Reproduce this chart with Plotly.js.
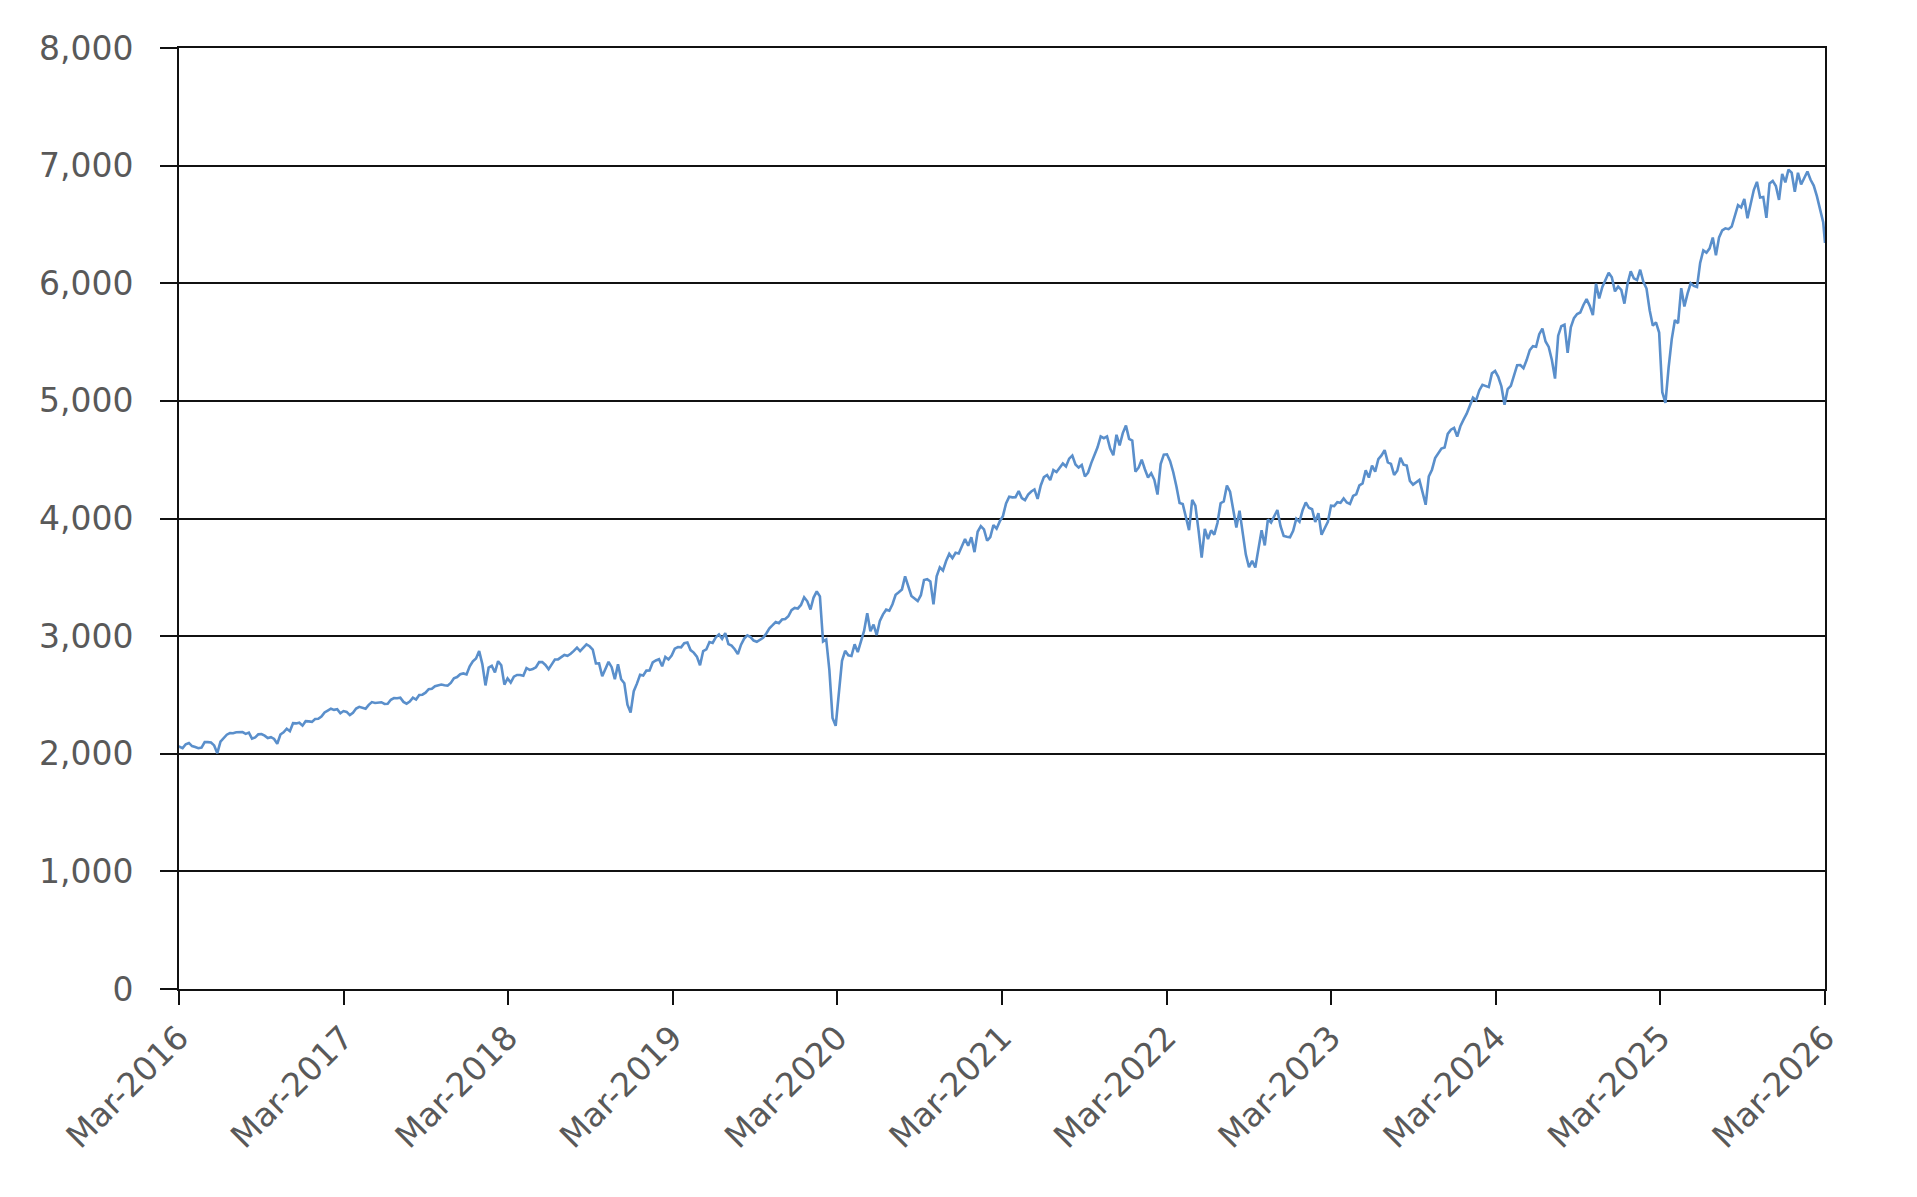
<!DOCTYPE html>
<html>
<head>
<meta charset="utf-8">
<script src="https://cdn.plot.ly/plotly-3.0.1.min.js"></script>
<style>
  html, body { margin: 0; padding: 0; background: #fff; }
  #chart { width: 1917px; height: 1197px; }
</style>
</head>
<body>
<div id="chart"></div>
<script>
// Weekly closes, one array per calendar year.
// Each array starts on the first Friday given in weekStarts.
const weekStarts = {
  2016: '2016-04-01', 2017: '2017-01-06', 2018: '2018-01-05', 2019: '2019-01-04',
  2020: '2020-01-03', 2021: '2021-01-08', 2022: '2022-01-07', 2023: '2023-01-06',
  2024: '2024-01-05', 2025: '2025-01-03', 2026: '2026-01-02'
};

const close2016 = [2060, 2048, 2081, 2092, 2065, 2057, 2047, 2052, 2099, 2099, 2096, 2071, 2005,
  2103, 2130, 2162, 2175, 2174, 2183, 2184, 2184, 2169, 2180, 2128, 2139, 2165, 2168,
  2154, 2133, 2141, 2126, 2085, 2164, 2182, 2213, 2192, 2260, 2258, 2264, 2239];
const close2017 = [2277, 2275, 2271, 2295, 2297, 2316, 2351, 2367, 2383, 2373, 2378, 2344, 2363,
  2356, 2329, 2349, 2384, 2399, 2391, 2382, 2416, 2439, 2432, 2433, 2438, 2423,
  2425, 2459, 2473, 2472, 2477, 2441, 2426, 2443, 2477, 2461, 2500, 2502, 2519,
  2549, 2553, 2575, 2581, 2588, 2582, 2579, 2602, 2642, 2652, 2676, 2683, 2674];
const close2018 = [2743, 2786, 2810, 2873, 2762, 2581, 2732, 2747, 2691, 2787, 2752, 2588, 2641,
  2605, 2656, 2670, 2670, 2663, 2728, 2713, 2721, 2735, 2779, 2779, 2755, 2718,
  2760, 2801, 2802, 2819, 2840, 2833, 2850, 2875, 2902, 2872, 2905, 2930, 2914,
  2886, 2767, 2768, 2659, 2723, 2781, 2736, 2633, 2760, 2633, 2600, 2417, 2351];
const close2019 = [2532, 2596, 2671, 2665, 2707, 2708, 2776, 2793, 2804, 2743, 2823, 2801, 2834,
  2893, 2907, 2905, 2940, 2946, 2881, 2860, 2826, 2752, 2873, 2887, 2950, 2942,
  2990, 3014, 2977, 3026, 2932, 2919, 2889, 2847, 2927, 2979, 3007, 2992, 2962,
  2952, 2970, 2986, 3023, 3067, 3093, 3120, 3110, 3141, 3146, 3169, 3221, 3240];
const close2020 = [3235, 3265, 3330, 3296, 3226, 3328, 3380, 3338, 2954, 2972, 2711, 2305, 2237,
  2489, 2790, 2875, 2837, 2831, 2930, 2864, 2956, 3044, 3194, 3041, 3098, 3009,
  3130, 3185, 3225, 3216, 3271, 3351, 3373, 3397, 3508, 3427, 3341, 3320, 3298,
  3348, 3477, 3484, 3465, 3270, 3509, 3585, 3558, 3638, 3699, 3663, 3709, 3703];
const close2021 = [3825, 3768, 3841, 3714, 3887, 3935, 3907, 3811, 3842, 3943, 3913, 3975,
  4020, 4129, 4185, 4180, 4181, 4233, 4174, 4156, 4204, 4230, 4247, 4167, 4281,
  4352, 4370, 4327, 4412, 4395, 4437, 4468, 4442, 4509, 4535, 4459, 4433, 4455,
  4357, 4391, 4471, 4545, 4605, 4698, 4683, 4698, 4595, 4538, 4712, 4621, 4726, 4790];
const close2022 = [4677, 4663, 4398, 4432, 4500, 4419, 4349, 4385, 4329, 4204, 4463, 4543,
  4546, 4488, 4393, 4272, 4132, 4123, 4024, 3901, 4158, 4109, 3901, 3667, 3912,
  3825, 3899, 3863, 3962, 4130, 4145, 4280, 4228, 4058, 3924, 4067, 3873, 3693, 3586,
  3640, 3583, 3753, 3901, 3771, 3993, 3965, 4026, 4072, 3934, 3852, 3845, 3840];
const close2023 = [3895, 3999, 3973, 4071, 4137, 4091, 4079, 3970, 4046, 3862, 3917, 3971, 4109,
  4105, 4138, 4134, 4170, 4136, 4124, 4192, 4206, 4282, 4299, 4410, 4348, 4450,
  4399, 4505, 4536, 4582, 4478, 4464, 4370, 4406, 4516, 4458, 4450, 4320, 4288,
  4309, 4328, 4224, 4117, 4358, 4415, 4514, 4559, 4595, 4604, 4719, 4755, 4770];
const close2024 = [4697, 4784, 4840, 4891, 4959, 5027, 5006, 5089, 5137, 5124, 5117, 5234, 5254,
  5204, 5123, 4967, 5100, 5128, 5223, 5303, 5305, 5278, 5347, 5432, 5465, 5460,
  5567, 5615, 5505, 5459, 5347, 5190, 5554, 5635, 5648, 5408, 5626, 5703, 5738,
  5751, 5815, 5865, 5808, 5729, 5996, 5871, 5969, 6032, 6090, 6051, 5931, 5971];
const close2025 = [5943, 5827, 5997, 6101, 6041, 6026, 6115, 6013, 5955, 5770, 5639, 5668, 5581,
  5074, 4983, 5283, 5525, 5687, 5660, 5958, 5803, 5912, 6000, 5977, 5968, 6173,
  6279, 6260, 6297, 6389, 6238, 6390, 6450, 6467, 6460, 6482, 6584, 6664, 6644,
  6716, 6553, 6664, 6792, 6862, 6729, 6734, 6556, 6849, 6870, 6827, 6709, 6930];
const close2026 = [6858, 6966, 6940, 6777, 6939, 6840, 6900, 6950, 6880, 6830, 6740, 6640, 6520];
const finalDate = '2026-03-31';
const finalClose = 6343;

const tickYears = [2016, 2017, 2018, 2019, 2020, 2021, 2022, 2023, 2024, 2025, 2026];
const yTicks = [0, 1000, 2000, 3000, 4000, 5000, 6000, 7000, 8000];

// Turn a yearly array into weekly dates from its first Friday.
const weekly = (start, values) => {
  const t0 = Date.parse(start + 'T00:00:00Z');
  return values.map((v, i) => new Date(t0 + i * 7 * 864e5).toISOString().slice(0, 10));
};

const years = [
  [2016, close2016], [2017, close2017], [2018, close2018], [2019, close2019],
  [2020, close2020], [2021, close2021], [2022, close2022], [2023, close2023],
  [2024, close2024], [2025, close2025], [2026, close2026]
];

let dates = ['2016-03-31'];
let closes = [2058];
years.forEach(([yr, vals]) => {
  dates = dates.concat(weekly(weekStarts[yr], vals));
  closes = closes.concat(vals);
});
dates.push(finalDate);
closes.push(finalClose);

const labelFont = { family: 'DejaVu Sans, Verdana, sans-serif', size: 33, color: '#595959' };

const trace = {
  x: dates, y: closes, type: 'scatter', mode: 'lines',
  line: { color: '#5a8fcb', width: 2.6 }, hoverinfo: 'x+y'
};

const layout = {
  width: 1917, height: 1197,
  margin: { l: 179, r: 92, t: 48, b: 208 },
  paper_bgcolor: '#ffffff', plot_bgcolor: '#ffffff',
  showlegend: false,
  xaxis: {
    type: 'date',
    range: ['2016-03-31', '2026-03-31'],
    tickvals: tickYears.map(y => y + '-03-31'),
    ticktext: tickYears.map(y => 'Mar-' + y),
    tickangle: -45,
    ticks: 'outside', ticklen: 14, tickwidth: 2, tickcolor: '#111',
    showline: true, linecolor: '#111', linewidth: 2, mirror: true,
    showgrid: false, zeroline: false,
    tickfont: labelFont
  },
  yaxis: {
    range: [0, 8000],
    tickvals: yTicks,
    tickformat: ',d',
    ticks: 'outside', ticklen: 17, tickwidth: 2, tickcolor: '#111',
    ticklabelstandoff: 20,
    showline: true, linecolor: '#111', linewidth: 2, mirror: true,
    showgrid: true, gridcolor: '#111', gridwidth: 2,
    zeroline: false,
    tickfont: labelFont
  }
};

Plotly.newPlot('chart', [trace], layout, { displayModeBar: false, staticPlot: true });
</script>
</body>
</html>
